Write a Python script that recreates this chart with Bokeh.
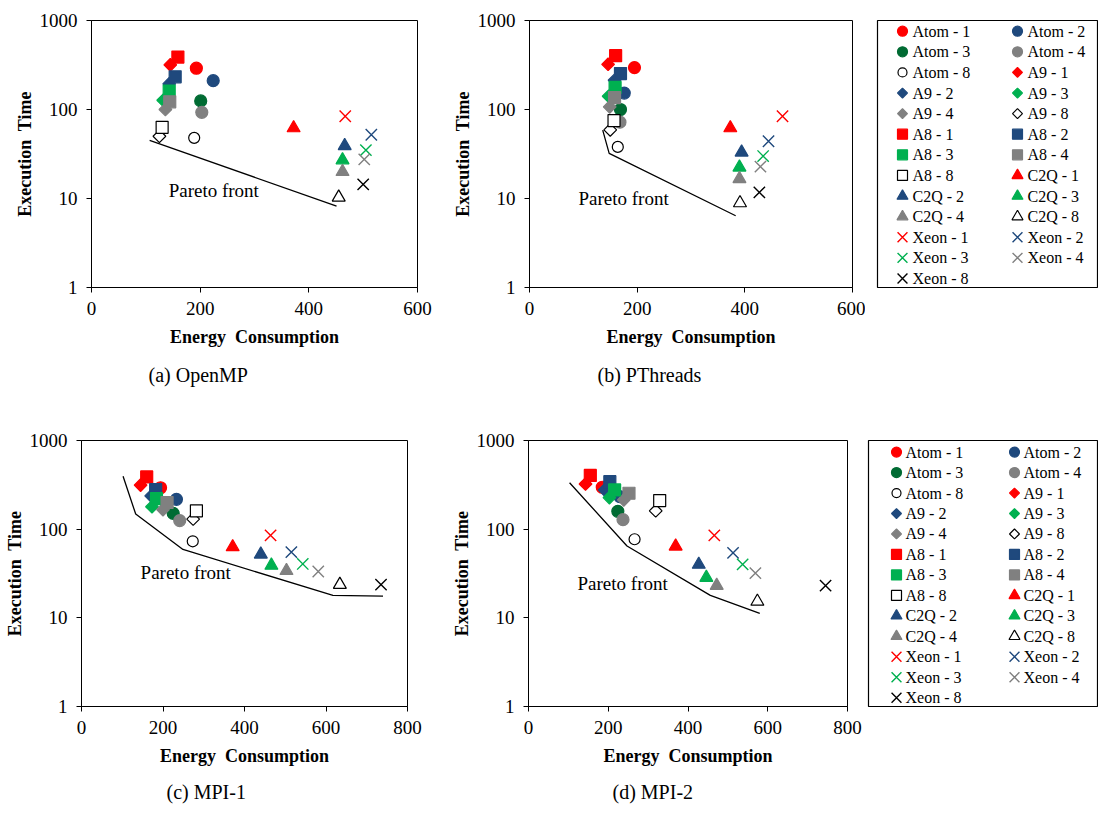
import numpy as np
from bokeh.plotting import figure
from bokeh.models import Range1d, FixedTicker, Title, NumeralTickFormatter
from bokeh.layouts import row, column
from bokeh.embed import file_html
from bokeh.resources import INLINE
from bokeh.core.properties import value

# ---------------- data ----------------
series = ["Atom - 1", "Atom - 2", "Atom - 3", "Atom - 4", "Atom - 8",
          "A9 - 1", "A9 - 2", "A9 - 3", "A9 - 4", "A9 - 8",
          "A8 - 1", "A8 - 2", "A8 - 3", "A8 - 4", "A8 - 8",
          "C2Q - 1", "C2Q - 2", "C2Q - 3", "C2Q - 4", "C2Q - 8",
          "Xeon - 1", "Xeon - 2", "Xeon - 3", "Xeon - 4", "Xeon - 8"]

openmp_energy = [193, 224, 201, 203, 189, 145, 143, 132, 136, 125, 159, 154, 143, 144, 130,
                 372, 466, 462, 462, 455, 467, 515, 505, 502, 500]
openmp_time = [291, 211, 125, 93, 48, 317, 194, 127, 100, 50, 388, 233, 161, 122, 63,
               62, 39, 27, 20, 10.3, 84, 52, 35, 27.5, 14.4]

pthreads_energy = [195, 176, 169, 168, 164, 146, 158, 147, 149, 150, 160, 169, 159, 158, 157,
                   373, 394, 390, 390, 391, 470, 444, 434, 429, 427]
pthreads_time = [296, 153, 100, 72, 38, 322, 213, 141, 107, 59, 403, 253, 177, 136, 75,
                 62, 33, 22.4, 16.6, 8.9, 84, 44, 30, 22.8, 11.7]

mpi1_energy = [194, 233, 225, 241, 273, 145, 171, 173, 200, 274, 160, 182, 184, 210, 282,
               371, 440, 466, 503, 634, 464, 515, 543, 581, 735]
mpi1_time = [293, 217, 151, 125, 73, 314, 237, 179, 166, 130, 388, 280, 221, 200, 161,
             63, 52, 39, 34, 23.7, 85, 55, 40.5, 33.3, 23.7]

mpi2_energy = [185, 229, 224, 237, 266, 143, 191, 203, 239, 319, 155, 204, 216, 252, 329,
               369, 427, 446, 472, 574, 466, 513, 537, 569, 745]
mpi2_time = [297, 233, 159, 128, 77, 323, 277, 227, 214, 161, 404, 343, 277, 254, 210,
             64, 40, 28.4, 23.1, 15.3, 85, 54, 40, 32, 23.1]

pareto_openmp_energy = [107, 451]
pareto_openmp_time = [45, 8.2]
pareto_pthreads_energy = [136, 148, 383]
pareto_pthreads_time = [58.7, 32.2, 6.4]
pareto_mpi1_energy = [102, 133, 249, 617, 740]
pareto_mpi1_time = [395, 148, 59, 17.9, 17.6]
pareto_mpi2_energy = [103, 247, 456, 580]
pareto_mpi2_time = [334, 64.6, 17.9, 11.2]

pareto_label = "Pareto front"
captions = ["(a) OpenMP", "(b) PThreads", "(c) MPI-1", "(d) MPI-2"]
x_title = "Energy\u00a0 Consumption"
y_title = "Execution\u00a0 Time"
y_ticks = [1, 10, 100, 1000]
x_ticks_600 = [0, 200, 400, 600]
x_ticks_800 = [0, 200, 400, 600, 800]

# ---------------- styles ----------------
FONT = "Liberation Serif"
RED, BLUE, GREEN, DKGREEN, GRAY = "#FF0000", "#1F497D", "#00B050", "#006B33", "#808080"


def style_of(name):
    plat, core = name.split(" - ")
    col = {"1": RED, "2": BLUE, "3": GREEN, "4": GRAY, "8": None}[core]
    if plat == "Atom" and core == "3":
        col = DKGREEN
    d = dict(line_width=1.2)
    if plat == "Xeon":
        d.update(marker="x", line_color=col or "black", size=16, line_width=1.4)
        return d
    mk = {"Atom": "circle", "A9": "square", "A8": "square", "C2Q": "triangle"}[plat]
    d["marker"] = mk
    d["angle"] = np.pi / 4 if plat == "A9" else 0.0
    d["size"] = {"Atom": 12, "A9": 9, "A8": 12, "C2Q": 13}[plat]
    if col is None:
        d.update(fill_color="white", line_color="black")
        if plat == "Atom":
            d["size"] = 11
    else:
        d.update(fill_color=col, line_color=col)
    return d


def make_panel(energy, time, pe, pt, lbl_x, lbl_y, xmax, xticks, caption, cap_off,
               width, height, bl, br, bt, bb, cap_standoff):
    p = figure(width=width, height=height, x_range=Range1d(0, xmax), y_range=Range1d(1, 1000),
               y_axis_type="log", output_backend="svg", toolbar_location=None,
               min_border_left=bl, min_border_right=br, min_border_top=bt, min_border_bottom=bb)
    p.grid.visible = False
    p.outline_line_color = "black"
    p.outline_line_width = 1
    p.background_fill_color = "white"
    p.border_fill_color = "white"
    p.xaxis.ticker = FixedTicker(ticks=xticks)
    p.yaxis.ticker = FixedTicker(ticks=y_ticks)
    p.yaxis.formatter = NumeralTickFormatter(format="0")
    for ax in (p.xaxis[0], p.yaxis[0]):
        ax.axis_line_color = "black"
        ax.axis_line_width = 1
        ax.major_tick_in = 0
        ax.major_tick_out = 5
        ax.major_tick_line_color = "black"
        ax.minor_tick_line_color = None
        ax.major_label_text_font = FONT
        ax.major_label_text_font_size = "19px"
        ax.major_label_text_color = "black"
        ax.major_label_standoff = 9
        ax.axis_label_text_font = FONT
        ax.axis_label_text_font_size = "18px"
        ax.axis_label_text_font_style = "bold"
        ax.axis_label_text_color = "black"
    p.xaxis.axis_label = x_title
    p.yaxis.axis_label = y_title
    p.xaxis.axis_label_standoff = 9
    p.yaxis.axis_label_standoff = 2

    p.line(pe, pt, line_color="black", line_width=1.3)
    p.text(x=[lbl_x], y=[lbl_y], text=[pareto_label], text_font=value(FONT),
           text_font_size="19px", text_baseline="middle", text_align="left", text_color="black")

    for i, name in enumerate(series):
        p.scatter([energy[i]], [time[i]], **style_of(name))

    t = Title(text=caption, align="left", offset=cap_off, text_font=FONT, text_font_size="20px",
              text_font_style="normal", text_color="black", standoff=cap_standoff)
    p.add_layout(t, "below")
    return p


def make_legend(width, height, bl, br, bt, bb, col_x, y0, dy, text_dx):
    fw = width - bl - br
    fh = height - bt - bb
    L = figure(width=width, height=height, x_range=Range1d(0, fw), y_range=Range1d(fh, 0),
               x_axis_location=None, y_axis_location=None, output_backend="svg",
               toolbar_location=None, min_border_left=bl, min_border_right=br,
               min_border_top=bt, min_border_bottom=bb)
    L.grid.visible = False
    L.outline_line_color = "black"
    L.outline_line_width = 1.2
    xs, ys = [], []
    for i, name in enumerate(series):
        x = col_x[i % 2]
        y = y0 + dy * (i // 2)
        st = style_of(name)
        st["size"] = st["size"] - 2
        L.scatter([x], [y], **st)
        xs.append(x + text_dx)
        ys.append(y)
    L.text(x=xs, y=ys, text=series, text_font=value(FONT), text_font_size="16px",
           text_baseline="middle", text_align="left", text_color="black")
    return L


pa = make_panel(openmp_energy, openmp_time, pareto_openmp_energy, pareto_openmp_time,
                142, 12.4, 600, x_ticks_600, captions[0], 57, 445, 410, 91, 28, 16, 123, 24)
pb = make_panel(pthreads_energy, pthreads_time, pareto_pthreads_energy, pareto_pthreads_time,
                91, 9.9, 600, x_ticks_600, captions[1], 68, 420, 410, 84, 13, 20, 122, 24)
lb = make_legend(233, 410, 12, 1, 17, 69, [25, 140], 13, 25, 10)

pc = make_panel(mpi1_energy, mpi1_time, pareto_mpi1_energy, pareto_mpi1_time,
                145, 32.7, 800, x_ticks_800, captions[2], 85, 445, 402, 81, 38, 27, 105, 20)
pd_ = make_panel(mpi2_energy, mpi2_time, pareto_mpi2_energy, pareto_mpi2_time,
                 123, 24.1, 800, x_ticks_800, captions[3], 84, 420, 402, 83, 18, 30, 103, 20)
ld = make_legend(233, 402, 3, 1, 27, 54, [28, 146], 14, 24.7, 9)

layout = column(row(pa, pb, lb), row(pc, pd_, ld))
open("out.html", "w").write(file_html(layout, INLINE))
